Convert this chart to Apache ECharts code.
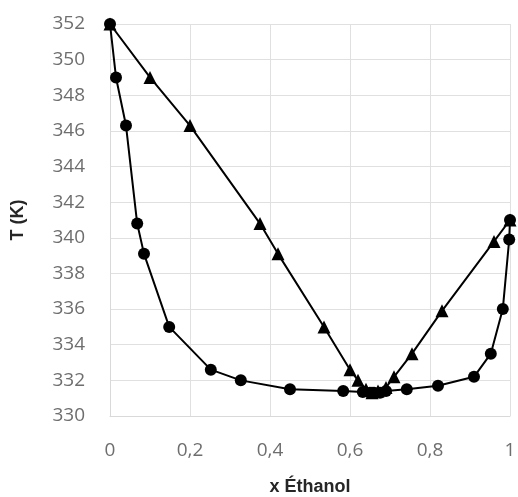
<!DOCTYPE html>
<html>
<head>
<meta charset="utf-8">
<script src="https://cdn.jsdelivr.net/npm/echarts@6/dist/echarts.min.js"></script>
<style>
html,body{margin:0;padding:0;background:#fff;}
#chart{width:518px;height:497px;}
</style>
</head>
<body>
<div id="chart"></div>
<script>
// Liquid curve (circles): x ethanol, T (K)
const liquidX = [0, 0.015, 0.04, 0.068, 0.085, 0.148, 0.252, 0.327, 0.45, 0.583, 0.632, 0.65, 0.66, 0.675, 0.69, 0.742, 0.82, 0.91, 0.952, 0.982, 0.998, 1];
const liquidT = [352, 349, 346.3, 340.8, 339.1, 335, 332.6, 332, 331.5, 331.4, 331.35, 331.3, 331.3, 331.3, 331.4, 331.5, 331.7, 332.2, 333.5, 336, 339.9, 341];
// Vapor curve (triangles)
const vaporX = [0, 0.1, 0.2, 0.375, 0.42, 0.535, 0.6, 0.62, 0.64, 0.655, 0.67, 0.69, 0.71, 0.755, 0.83, 0.96, 1];
const vaporT = [352, 349, 346.3, 340.8, 339.1, 335, 332.6, 332, 331.5, 331.3, 331.4, 331.6, 332.2, 333.5, 335.9, 339.8, 341];

const xTicks = {min: 0, max: 1, interval: 0.2};
const yTicks = {min: 330, max: 352, interval: 2};

const pair = (xs, ys) => xs.map((x, i) => [x, ys[i]]);

const chart = echarts.init(document.getElementById('chart'));
const labelFont = {color: '#6e6e6e', fontSize: 19, fontFamily: 'Open Sans'};
chart.setOption({
  animation: false,
  grid: {left: 110, right: 8, top: 24, bottom: 81, containLabel: false, outerBoundsMode: 'none'},
  xAxis: {
    type: 'value', min: xTicks.min, max: xTicks.max, interval: xTicks.interval,
    name: 'x Éthanol', nameLocation: 'middle', nameGap: 62,
    nameTextStyle: {color: '#262626', fontSize: 18, fontWeight: 'bold', fontFamily: 'Liberation Sans'},
    axisLine: {show: true, lineStyle: {color: '#d9d9d9'}},
    axisTick: {show: false},
    axisLabel: Object.assign({margin: 25, formatter: v => String(v).replace('.', ',')}, labelFont),
    splitLine: {show: true, lineStyle: {color: '#e0e0e0'}}
  },
  yAxis: {
    type: 'value', min: yTicks.min, max: yTicks.max, interval: yTicks.interval,
    name: 'T (K)', nameLocation: 'middle', nameGap: 83, nameRotate: 90,
    nameTextStyle: {color: '#262626', fontSize: 18, fontWeight: 'bold', fontFamily: 'Liberation Sans'},
    axisLine: {show: true, lineStyle: {color: '#d9d9d9'}},
    axisTick: {show: false},
    axisLabel: Object.assign({margin: 25}, labelFont),
    splitLine: {show: true, lineStyle: {color: '#e0e0e0'}}
  },
  series: [
    {
      type: 'line', data: pair(vaporX, vaporT),
      symbol: 'triangle', symbolSize: 13,
      lineStyle: {color: '#000', width: 2}, itemStyle: {color: '#000'}
    },
    {
      type: 'line', data: pair(liquidX, liquidT),
      symbol: 'circle', symbolSize: 12,
      lineStyle: {color: '#000', width: 2}, itemStyle: {color: '#000'}
    }
  ]
});
</script>
</body>
</html>
